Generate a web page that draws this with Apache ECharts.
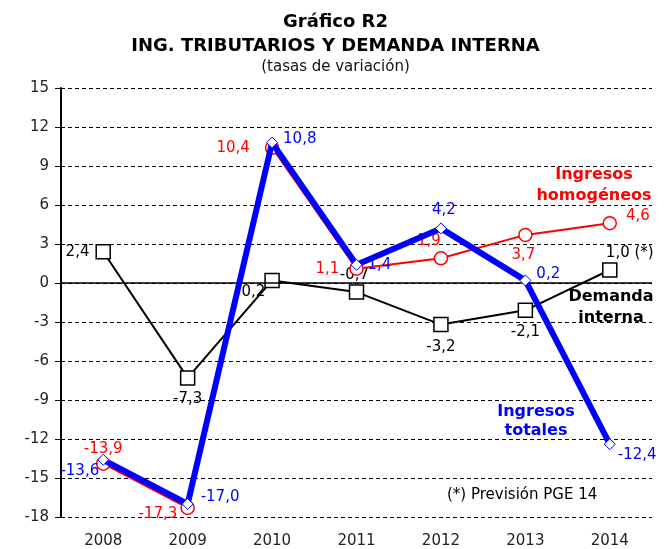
<!DOCTYPE html>
<html><head><meta charset="utf-8">
<script src="https://cdn.jsdelivr.net/npm/echarts@6/dist/echarts.min.js"></script>
<style>html,body{margin:0;padding:0;background:#fff}#c{width:671px;height:549px}</style>
</head><body><div id="c"></div>
<script>
const years = ['2008','2009','2010','2011','2012','2013','2014'];
const demandaInterna = [2.4, -7.3, 0.2, -0.7, -3.2, -2.1, 1.0];
const ingresosHomogeneos = [-13.9, -17.3, 10.4, 1.1, 1.9, 3.7, 4.6];
const ingresosTotales = [-13.6, -17.0, 10.8, 1.4, 4.2, 0.2, -12.4];
const yTicks = [-18, -15, -12, -9, -6, -3, 0, 3, 6, 9, 12, 15];

const FONT = 'DejaVu Sans';
const fmt = v => v.toFixed(1).replace('.', ',');

// label placement per point (style only)
const demPos = [['left',[-1,0]],['bottom',[0,1]],['left',[6,12]],['top',[-2,3]],['bottom',[0,2]],['bottom',[0,2]],['top',[20,3]]];
const homPos = [['top',[0,5]],['left',[2,6]],['left',[-10,0]],['left',[-5,0]],['top',[-12,3]],['bottom',[-2,0]],['right',[4,-7]]];
const totPos = [['left',[7,11]],['right',[2,-7]],['right',[0,-3]],['right',[0,0]],['top',[3,0]],['right',[0,-6]],['right',[-3,11]]];

function mk(values, pos, color, suffix) {
  return values.map((v, i) => ({
    value: v,
    label: {
      show: true, position: pos[i][0], offset: pos[i][1], color: color,
      fontFamily: FONT, fontSize: 15, distance: 5,
      formatter: () => fmt(v) + ((suffix && i === values.length - 1) ? ' (*)' : '')
    }
  }));
}

const chart = echarts.init(document.getElementById('c'), null, {renderer: 'canvas'});
chart.setOption({
  animation: false,
  backgroundColor: '#fff',
  title: [
    {text: 'Gráfico R2', left: 'center', top: 8, textStyle: {fontFamily: FONT, fontWeight: 'bold', fontSize: 18, color: '#000'}},
    {text: 'ING. TRIBUTARIOS Y DEMANDA INTERNA', left: 'center', top: 32, textStyle: {fontFamily: FONT, fontWeight: 'bold', fontSize: 18, color: '#000'}},
    {text: '(tasas de variación)', left: 'center', top: 55, textStyle: {fontFamily: FONT, fontWeight: 'normal', fontSize: 15, color: '#111'}}
  ],
  grid: {left: 61, right: 19, top: 88, bottom: 29, containLabel: false},
  xAxis: {
    type: 'category', data: years, boundaryGap: true,
    axisLine: {show: false}, axisTick: {show: false},
    axisLabel: {fontFamily: FONT, fontSize: 15, color: '#222', margin: 17}
  },
  yAxis: {
    type: 'value', min: -18, max: 15, interval: 3,
    axisLine: {show: true, lineStyle: {color: '#000', width: 2}},
    axisTick: {show: true, length: 6, inside: false, lineStyle: {color: '#000'}},
    axisLabel: {fontFamily: FONT, fontSize: 15, color: '#222', margin: 12,
      formatter: v => yTicks.includes(v) ? String(v) : ''},
    splitLine: {show: true, lineStyle: {color: '#000', type: [4, 3], width: 1}}
  },
  series: [
    {
      name: 'Demanda interna', type: 'line', data: mk(demandaInterna, demPos, '#000', true),
      symbol: 'rect', symbolSize: 14, z: 3,
      lineStyle: {color: '#000', width: 2},
      itemStyle: {color: '#fff', borderColor: '#000', borderWidth: 1.5},
      markLine: {silent: true, symbol: 'none', label: {show: false},
        lineStyle: {color: '#000', type: 'solid', width: 1.5}, data: [{yAxis: 0}]}
    },
    {
      name: 'Ingresos homogéneos', type: 'line', data: mk(ingresosHomogeneos, homPos, '#ff0000', false),
      symbol: 'circle', symbolSize: 13, z: 4,
      lineStyle: {color: '#ff0000', width: 2},
      itemStyle: {color: '#fff', borderColor: '#ff0000', borderWidth: 1.5}
    },
    {
      name: 'Ingresos totales', type: 'line', data: mk(ingresosTotales, totPos, '#0000ff', false),
      symbol: 'diamond', symbolSize: 11, z: 5,
      lineStyle: {color: '#0000ff', width: 6},
      itemStyle: {color: '#fff', borderColor: '#0000ff', borderWidth: 1}
    }
  ],
  graphic: [
    {type: 'text', z: 10, style: {text: 'Ingresos\nhomogéneos', x: 594, y: 164, align: 'center', fill: '#ff0000',
      font: 'bold 16px "DejaVu Sans"', lineHeight: 21}},
    {type: 'text', z: 10, style: {text: 'Demanda\ninterna', x: 611, y: 286, align: 'center', fill: '#000',
      font: 'bold 16px "DejaVu Sans"', lineHeight: 21}},
    {type: 'text', z: 10, style: {text: 'Ingresos\ntotales', x: 536, y: 402, align: 'center', fill: '#0000ff',
      font: 'bold 16px "DejaVu Sans"', lineHeight: 19}},
    {type: 'text', z: 10, style: {text: '(*) Previsión PGE 14', x: 447, y: 488, fill: '#000',
      font: '15px "DejaVu Sans"'}}
  ]
});
</script></body></html>
